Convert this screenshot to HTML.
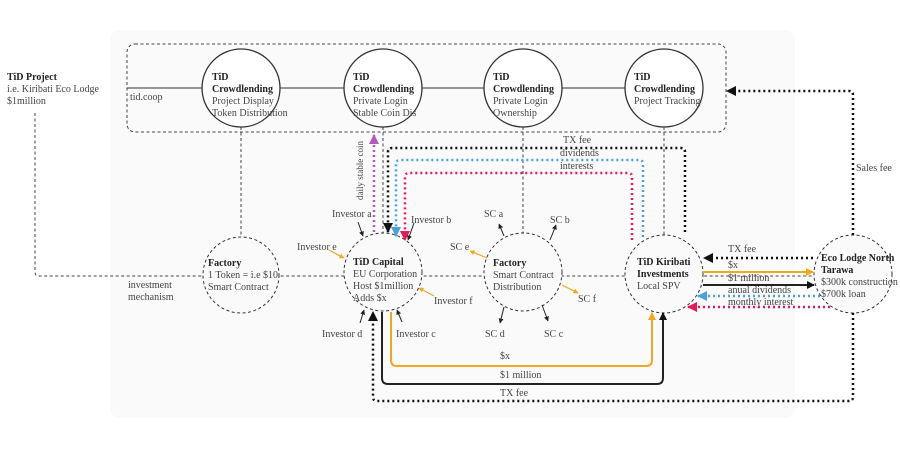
<!DOCTYPE html>
<html><head><meta charset="utf-8"><style>
html,body{margin:0;padding:0;background:#fff;}
svg{display:block;font-family:"Liberation Serif",serif;}
text{font-size:10px;fill:#444;}
.b{font-weight:bold;fill:#222;}
</style></head><body>
<svg width="900" height="450" viewBox="0 0 900 450" xmlns="http://www.w3.org/2000/svg">
<defs>
<marker id="ak" markerWidth="8" markerHeight="8" refX="7" refY="4" orient="auto" markerUnits="userSpaceOnUse"><path d="M0,0L8,4L0,8z" fill="#111"/></marker>
<marker id="ao" markerWidth="8" markerHeight="8" refX="7" refY="4" orient="auto" markerUnits="userSpaceOnUse"><path d="M0,0L8,4L0,8z" fill="#f0a81e"/></marker>
<marker id="ab" markerWidth="10" markerHeight="10" refX="9" refY="5" orient="auto" markerUnits="userSpaceOnUse"><path d="M0,0L10,5L0,10z" fill="#4aa0db"/></marker>
<marker id="ap" markerWidth="10" markerHeight="10" refX="9" refY="5" orient="auto" markerUnits="userSpaceOnUse"><path d="M0,0L10,5L0,10z" fill="#e8185a"/></marker>
<marker id="am" markerWidth="10" markerHeight="10" refX="9" refY="5" orient="auto" markerUnits="userSpaceOnUse"><path d="M0,0L10,5L0,10z" fill="#b05cb8"/></marker>
<marker id="akb" markerWidth="10" markerHeight="10" refX="9" refY="5" orient="auto" markerUnits="userSpaceOnUse"><path d="M0,0L10,5L0,10z" fill="#111"/></marker>
<marker id="as" markerWidth="5" markerHeight="5" refX="4.5" refY="2.5" orient="auto" markerUnits="userSpaceOnUse"><path d="M0,0L5,2.5L0,5z" fill="#222"/></marker>
<marker id="aso" markerWidth="5" markerHeight="5" refX="4.5" refY="2.5" orient="auto" markerUnits="userSpaceOnUse"><path d="M0,0L5,2.5L0,5z" fill="#f0a81e"/></marker>
</defs>
<rect x="110" y="30" width="685" height="388" rx="10" fill="#fafafa"/>
<!-- top dashed rect -->
<rect x="127" y="44" width="599" height="88" rx="8" fill="none" stroke="#444" stroke-width="1" stroke-dasharray="3 2.5"/>
<line x1="127" y1="88" x2="625" y2="88" stroke="#333" stroke-width="1"/>
<text x="130" y="100">tid.coop</text>
<!-- dashed connectors -->
<g stroke="#444" stroke-width="1" stroke-dasharray="3 2.5" fill="none">
<path d="M35,113 V272 Q35,276 39,276 H826"/>
<line x1="241" y1="127" x2="241" y2="237"/>
<line x1="383" y1="127" x2="383" y2="233"/>
<line x1="523" y1="127" x2="523" y2="233"/>
<line x1="664" y1="127" x2="664" y2="235"/>
</g>
<!-- circles -->
<g fill="#fff" stroke="#333" stroke-width="1.3">
<circle cx="241" cy="88" r="39"/><circle cx="383" cy="88" r="39"/><circle cx="523" cy="88" r="39"/><circle cx="664" cy="88" r="39"/>
</g>
<g fill="#fafafa" stroke="#333" stroke-width="1" stroke-dasharray="3 2.5">
<circle cx="241" cy="275" r="38"/><circle cx="383" cy="272" r="39"/><circle cx="523" cy="272" r="39"/><circle cx="664" cy="274" r="39"/><circle cx="853" cy="274" r="39"/>
</g>
<!-- top circle texts -->
<text x="212" y="80" class="b">TiD</text><text x="212" y="92" class="b">Crowdlending</text><text x="212" y="104">Project Display</text><text x="212" y="116">Token Distribution</text>
<text x="353" y="80" class="b">TiD</text><text x="353" y="92" class="b">Crowdlending</text><text x="353" y="104">Private Login</text><text x="353" y="116">Stable Coin Dis</text>
<text x="493" y="80" class="b">TiD</text><text x="493" y="92" class="b">Crowdlending</text><text x="493" y="104">Private Login</text><text x="493" y="116">Ownership</text>
<text x="634" y="80" class="b">TiD</text><text x="634" y="92" class="b">Crowdlending</text><text x="634" y="104">Project Tracking</text>
<!-- left project -->
<text x="7" y="80" class="b">TiD Project</text><text x="7" y="92">i.e. Kiribati Eco Lodge</text><text x="7" y="104">$1million</text>
<text x="128" y="288">investment</text><text x="128" y="300">mechanism</text>
<!-- bottom circle texts -->
<text x="208" y="266" class="b">Factory</text><text x="208" y="278">1 Token = i.e $10</text><text x="208" y="290">Smart Contract</text>
<text x="353" y="265" class="b">TiD Capital</text><text x="353" y="277">EU Corporation</text><text x="353" y="289">Host $1million</text><text x="353" y="301">Adds $x</text>
<text x="493" y="266" class="b">Factory</text><text x="493" y="278">Smart Contract</text><text x="493" y="290">Distribution</text>
<text x="637" y="265" class="b">TiD Kiribati</text><text x="637" y="277" class="b">Investments</text><text x="637" y="289">Local SPV</text>
<text x="821" y="261" class="b">Eco Lodge North</text><text x="821" y="273" class="b">Tarawa</text><text x="821" y="285">$300k construction</text><text x="821" y="297">$700k loan</text>
<!-- dotted loops -->
<g fill="none" stroke-width="2.5" stroke-dasharray="2 3">
<path d="M374,232 V135" stroke="#b05cb8" marker-end="url(#am)"/>
<path d="M685,232 V152 Q685,148 681,148 H392 Q388,148 388,152 V232" stroke="#111" marker-end="url(#akb)"/>
<path d="M643,237 V164 Q643,160 639,160 H400 Q396,160 396,164 V236" stroke="#4aa0db" marker-end="url(#ab)"/>
<path d="M632,240 V177 Q632,173 628,173 H409 Q405,173 405,177 V240" stroke="#e8185a" marker-end="url(#ap)"/>
<path d="M853,235 V95 Q853,91 849,91 H727" stroke="#111" marker-end="url(#akb)"/>
<path d="M853,313 V397 Q853,401 849,401 H377 Q373,401 373,397 V312" stroke="#111" marker-end="url(#akb)"/>
<path d="M813,258 H704" stroke="#111" marker-end="url(#akb)"/>
<path d="M820,296 H698" stroke="#4aa0db" marker-end="url(#ab)"/>
<path d="M830,307 H688" stroke="#e8185a" marker-end="url(#ap)"/>
</g>
<text x="363" y="200" transform="rotate(-90 363 200)" style="font-size:9px">daily stable coin</text>
<text x="563" y="143">TX fee</text><text x="560" y="156">dividends</text><text x="560" y="169">interests</text>
<text x="856" y="171">Sales fee</text>
<!-- solid lines -->
<g fill="none" stroke-width="2">
<path d="M391,312 V360 Q391,366 397,366 H646 Q652,366 652,360 V313" stroke="#f0a81e" marker-end="url(#ao)"/>
<path d="M382,312 V378 Q382,384 388,384 H657 Q663,384 663,378 V313" stroke="#222" marker-end="url(#ak)"/>
<path d="M703,272 H813" stroke="#f0a81e" marker-end="url(#ao)"/>
<path d="M703,285 H814" stroke="#222" marker-end="url(#ak)"/>
</g>
<text x="500" y="359">$x</text><text x="500" y="378">$1 million</text><text x="500" y="396">TX fee</text>
<text x="728" y="252">TX fee</text><text x="728" y="268">$x</text><text x="728" y="281">$1 million</text><text x="728" y="293">anual dividends</text><text x="728" y="305">monthly interest</text>
<!-- investor arrows -->
<g stroke="#222" stroke-width="1" fill="none">
<line x1="358" y1="222" x2="363" y2="236" marker-end="url(#as)"/>
<line x1="414" y1="223" x2="408" y2="240" marker-end="url(#as)"/>
<line x1="360" y1="323" x2="364" y2="310" marker-end="url(#as)"/>
<line x1="402" y1="322" x2="397" y2="310" marker-end="url(#as)"/>
<line x1="504" y1="236" x2="499" y2="224" marker-end="url(#as)"/>
<line x1="550" y1="240" x2="556" y2="225" marker-end="url(#as)"/>
<line x1="504" y1="307" x2="500" y2="323" marker-end="url(#as)"/>
<line x1="542" y1="305" x2="548" y2="321" marker-end="url(#as)"/>
</g>
<g stroke="#f0a81e" stroke-width="1.2" fill="none">
<line x1="329" y1="250" x2="344" y2="258" marker-end="url(#aso)"/>
<line x1="434" y1="296" x2="419" y2="288" marker-end="url(#aso)"/>
<line x1="487" y1="258" x2="470" y2="251" marker-end="url(#aso)"/>
<line x1="562" y1="285" x2="578" y2="293" marker-end="url(#aso)"/>
</g>
<text x="332" y="217">Investor a</text><text x="411" y="223">Investor b</text>
<text x="297" y="250">Investor e</text><text x="434" y="304">Investor f</text>
<text x="322" y="337">Investor d</text><text x="396" y="337">Investor c</text>
<text x="484" y="217">SC a</text><text x="550" y="223">SC b</text>
<text x="450" y="250">SC e</text><text x="578" y="302">SC f</text>
<text x="485" y="337">SC d</text><text x="544" y="337">SC c</text>
</svg>
</body></html>
